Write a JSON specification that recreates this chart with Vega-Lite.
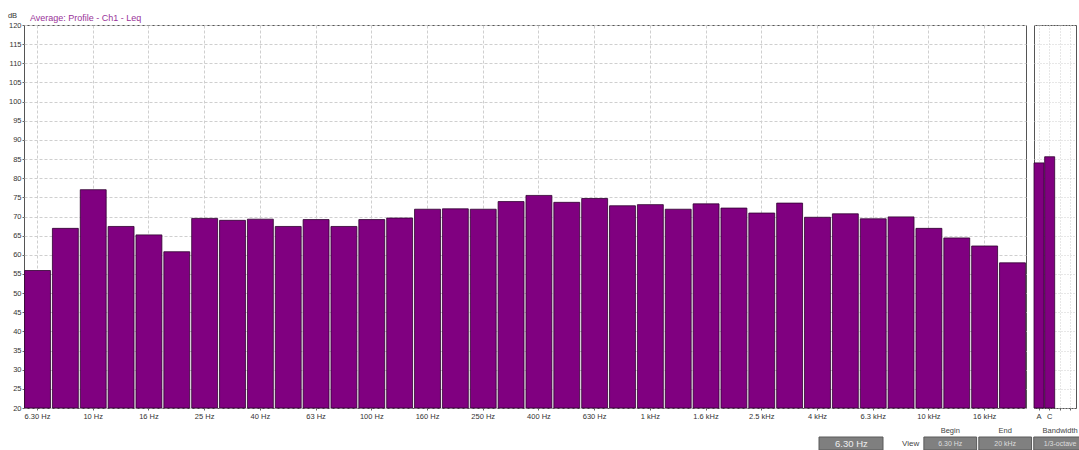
{
  "$schema": "https://vega.github.io/schema/vega-lite/v6.json",
  "background": "white",
  "padding": {"left": 6, "top": 10, "right": 0, "bottom": 0},
  "title": {"text": "Average: Profile - Ch1 - Leq", "anchor": "start", "frame": "bounds", "fontSize": 9, "font": "Liberation Sans", "fontWeight": "normal", "color": "#993399", "dx": 23, "offset": -12},
  "config": {
    "font": "Liberation Sans",
    "view": {"stroke": "#555555", "strokeWidth": 1},
    "axis": {"labelFont": "Liberation Sans", "labelFontSize": 7.5, "labelColor": "#333333", "tickColor": "#666666", "tickSize": 2, "labelPadding": 1, "domain": false, "gridColor": "#cfcfcf", "gridDash": [3, 2], "minExtent": 0, "titleFont": "Liberation Sans"}
  },
  "datasets": {
    "bands": [
      {"band": "6.30 Hz", "leq": 55.9},
      {"band": "8 Hz", "leq": 66.9},
      {"band": "10 Hz", "leq": 77.0},
      {"band": "12.5 Hz", "leq": 67.4},
      {"band": "16 Hz", "leq": 65.2},
      {"band": "20 Hz", "leq": 60.8},
      {"band": "25 Hz", "leq": 69.5},
      {"band": "31.5 Hz", "leq": 69.0},
      {"band": "40 Hz", "leq": 69.3},
      {"band": "50 Hz", "leq": 67.4},
      {"band": "63 Hz", "leq": 69.2},
      {"band": "80 Hz", "leq": 67.4},
      {"band": "100 Hz", "leq": 69.2},
      {"band": "125 Hz", "leq": 69.6},
      {"band": "160 Hz", "leq": 71.9},
      {"band": "200 Hz", "leq": 72.0},
      {"band": "250 Hz", "leq": 71.9},
      {"band": "315 Hz", "leq": 73.9},
      {"band": "400 Hz", "leq": 75.5},
      {"band": "500 Hz", "leq": 73.7},
      {"band": "630 Hz", "leq": 74.7},
      {"band": "800 Hz", "leq": 72.8},
      {"band": "1 kHz", "leq": 73.1},
      {"band": "1.25 kHz", "leq": 71.9},
      {"band": "1.6 kHz", "leq": 73.3},
      {"band": "2 kHz", "leq": 72.2},
      {"band": "2.5 kHz", "leq": 70.9},
      {"band": "3.15 kHz", "leq": 73.5},
      {"band": "4 kHz", "leq": 69.8},
      {"band": "5 kHz", "leq": 70.7},
      {"band": "6.3 kHz", "leq": 69.4},
      {"band": "8 kHz", "leq": 69.9},
      {"band": "10 kHz", "leq": 66.9},
      {"band": "12.5 kHz", "leq": 64.4},
      {"band": "16 kHz", "leq": 62.3},
      {"band": "20 kHz", "leq": 57.9}
    ],
    "overall": [
      {"weighting": "A", "leq": 84.0},
      {"weighting": "C", "leq": 85.6}
    ],
    "controls": [
      {"key": "cursor", "row": "box", "label": "6.30 Hz", "kind": "cursor"},
      {"key": "View", "row": "box", "label": "View", "kind": "viewcaption"},
      {"key": "Begin", "row": "head", "label": "Begin", "kind": "caption"},
      {"key": "Begin", "row": "box", "label": "6.30 Hz", "kind": "field"},
      {"key": "End", "row": "head", "label": "End", "kind": "caption"},
      {"key": "End", "row": "box", "label": "20 kHz", "kind": "field"},
      {"key": "Bandwidth", "row": "head", "label": "Bandwidth", "kind": "caption"},
      {"key": "Bandwidth", "row": "box", "label": "1/3-octave", "kind": "field"}
    ]
  },
  "spacing": 4,
  "vconcat": [
    {
      "spacing": 6,
      "hconcat": [
        {
          "width": 1002,
          "height": 383,
          "data": {"name": "bands"},
          "mark": {"type": "bar", "color": "#800080", "stroke": "#2e002e", "strokeWidth": 0.8},
          "encoding": {
            "x": {
              "field": "band", "type": "ordinal", "sort": null,
              "scale": {"paddingInner": 0.07, "paddingOuter": 0.02},
              "axis": {
                "values": ["6.30 Hz", "10 Hz", "16 Hz", "25 Hz", "40 Hz", "63 Hz", "100 Hz", "160 Hz", "250 Hz", "400 Hz", "630 Hz", "1 kHz", "1.6 kHz", "2.5 kHz", "4 kHz", "6.3 kHz", "10 kHz", "16 kHz"],
                "labelAngle": 0, "title": null, "grid": true, "labelPadding": 2
              }
            },
            "y": {
              "field": "leq", "type": "quantitative",
              "scale": {"domain": [20, 120], "nice": false, "zero": false},
              "axis": {
                "values": [20, 25, 30, 35, 40, 45, 50, 55, 60, 65, 70, 75, 80, 85, 90, 95, 100, 105, 110, 115, 120],
                "grid": true, "title": "dB", "titleAngle": 0, "titleFontSize": 7.5, "titleFontWeight": "normal", "titleColor": "#333333",
                "titleX": -12, "titleY": -6, "titleAlign": "center", "titleBaseline": "bottom"
              }
            },
            "y2": {"datum": 20}
          }
        },
        {
          "width": 42,
          "height": 383,
          "data": {"name": "overall"},
          "mark": {"type": "bar", "color": "#800080", "stroke": "#2e002e", "strokeWidth": 0.8},
          "encoding": {
            "x": {
              "field": "weighting", "type": "ordinal",
              "scale": {"domain": ["A", "C", "Z", "L"], "paddingInner": 0.06, "paddingOuter": 0},
              "axis": {
                "labelExpr": "datum.value == 'A' || datum.value == 'C' ? datum.value : ''",
                "labelAngle": 0, "title": null, "grid": true, "gridDash": [1, 2], "labelPadding": 2
              }
            },
            "y": {
              "field": "leq", "type": "quantitative",
              "scale": {"domain": [20, 120], "nice": false, "zero": false},
              "axis": {
                "values": [20, 25, 30, 35, 40, 45, 50, 55, 60, 65, 70, 75, 80, 85, 90, 95, 100, 105, 110, 115, 120],
                "grid": true, "gridDash": [1, 2], "labels": false, "ticks": false, "title": null
              }
            },
            "y2": {"datum": 20}
          }
        }
      ]
    },
    {
      "width": 1060,
      "height": 26,
      "view": {"stroke": null},
      "data": {"name": "controls"},
      "encoding": {
        "x": {
          "field": "key", "type": "nominal", "axis": null,
          "scale": {"domain": ["cursor", "View", "Begin", "End", "Bandwidth"], "paddingInner": 0.04, "paddingOuter": 0, "range": [790, 1062.5]}
        },
        "y": {
          "field": "row", "type": "nominal", "axis": null,
          "scale": {"domain": ["head", "box"], "paddingInner": 0, "paddingOuter": 0}
        }
      },
      "layer": [
        {
          "transform": [{"filter": "datum.kind == 'field'"}],
          "mark": {"type": "bar", "color": "#808080", "stroke": "#5a5a5a", "strokeWidth": 1}
        },
        {
          "transform": [{"filter": "datum.kind == 'cursor'"}],
          "mark": {"type": "bar", "color": "#7f7f7f", "stroke": "#5a5a5a", "strokeWidth": 1, "width": 64},
          "encoding": {"xOffset": {"value": 37}}
        },
        {
          "transform": [{"filter": "datum.kind == 'field'"}],
          "mark": {"type": "text", "fontSize": 7, "color": "#dddddd", "font": "Liberation Sans"},
          "encoding": {"text": {"field": "label"}}
        },
        {
          "transform": [{"filter": "datum.kind == 'cursor'"}],
          "mark": {"type": "text", "fontSize": 9.5, "color": "#eeeeee", "font": "Liberation Sans", "dx": 11},
          "encoding": {"text": {"field": "label"}}
        },
        {
          "transform": [{"filter": "datum.kind == 'caption'"}],
          "mark": {"type": "text", "fontSize": 7.5, "color": "#444444", "font": "Liberation Sans"},
          "encoding": {"text": {"field": "label"}}
        },
        {
          "transform": [{"filter": "datum.kind == 'viewcaption'"}],
          "mark": {"type": "text", "fontSize": 8, "color": "#444444", "font": "Liberation Sans", "align": "right", "dx": 24},
          "encoding": {"text": {"field": "label"}}
        }
      ]
    }
  ]
}
